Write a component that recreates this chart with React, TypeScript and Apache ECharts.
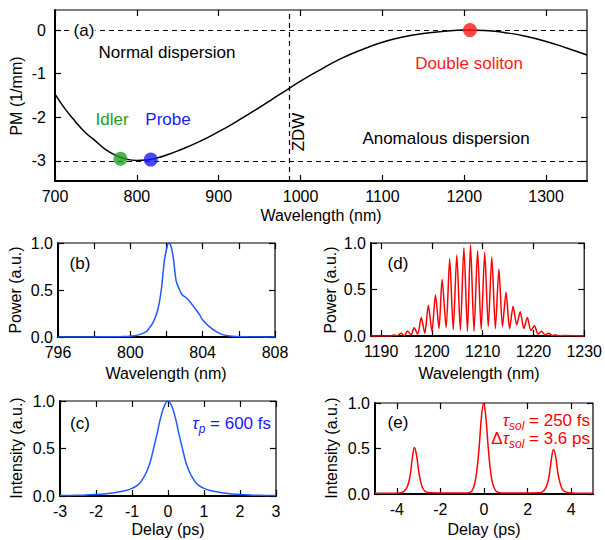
import React, { useEffect, useRef } from "react";
import * as echarts from "echarts";

// ---------- Panel (a): phase matching vs wavelength ----------
const pmWavelength = [700, 712, 725, 737, 750, 762, 775, 787, 800, 812, 825, 837, 850, 875, 900, 925, 950, 975, 1000, 1025, 1050, 1075, 1100, 1125, 1150, 1175, 1200, 1225, 1250, 1275, 1300, 1325, 1350];
const pmValues = [-1.47, -1.8, -2.1, -2.35, -2.55, -2.74, -2.88, -2.96, -2.99, -2.98, -2.93, -2.86, -2.77, -2.57, -2.33, -2.06, -1.77, -1.47, -1.17, -0.9, -0.65, -0.45, -0.28, -0.16, -0.08, -0.03, 0.0, -0.01, -0.06, -0.14, -0.26, -0.41, -0.57];
const markerNames = ["Idler", "Probe", "Double soliton"];
const markerWavelength = [780, 817, 1207];
const markerPM = [-2.95, -2.97, 0.0];
const markerColors = ["#22a022", "#1a1aff", "#ff1a1a"];
const zdwWavelength = 986.6;
const pmGuideLevels = [0, -3];
const aXTicks = [700, 800, 900, 1000, 1100, 1200, 1300];
const aYTicks = [-3, -2, -1, 0];

// ---------- Panel (b): probe spectrum ----------
const bWavelength = [796, 798, 799, 799.5, 800, 800.5, 800.9, 801.06, 801.25, 801.52, 801.71, 801.89, 802.07, 802.13, 802.26, 802.39, 802.53, 802.68, 802.86, 803.08, 803.36, 803.63, 803.82, 804.0, 804.37, 804.73, 805.1, 805.65, 806.5, 808];
const bPower = [0, 0.001, 0.002, 0.004, 0.007, 0.025, 0.06, 0.1, 0.15, 0.29, 0.5, 0.82, 0.99, 1.0, 0.96, 0.82, 0.6, 0.52, 0.45, 0.42, 0.36, 0.29, 0.24, 0.18, 0.11, 0.06, 0.025, 0.007, 0.002, 0];
const bXTicks = [796, 798, 800, 802, 804, 806, 808];
const bXLabels = [796, 800, 804, 808];

// ---------- Panel (c): probe autocorrelation ----------
const cDelay = [-3, -2.5, -2, -1.5, -1.2, -1, -0.9, -0.8, -0.7, -0.6, -0.5, -0.4, -0.3, -0.2, -0.1, 0, 0.1, 0.2, 0.3, 0.4, 0.5, 0.6, 0.7, 0.8, 0.9, 1, 1.2, 1.5, 2, 2.5, 3];
const cIntensity = [0.005, 0.008, 0.015, 0.035, 0.055, 0.08, 0.1, 0.13, 0.18, 0.25, 0.35, 0.5, 0.66, 0.83, 0.95, 1.0, 0.95, 0.83, 0.66, 0.5, 0.35, 0.25, 0.18, 0.13, 0.1, 0.08, 0.055, 0.035, 0.015, 0.008, 0.005];
const cXTicks = [-3, -2, -1, 0, 1, 2, 3];

// ---------- Panel (d): double soliton spectrum ----------
const dWavelength = [1188, 1191.8, 1192.5, 1193.2, 1193.9, 1194.6, 1195.2, 1195.9, 1196.5, 1197.2, 1197.9, 1198.6, 1199.3, 1200.0, 1200.7, 1201.4, 1202.0, 1202.8, 1203.5, 1204.2, 1204.9, 1205.6, 1206.3, 1207.0, 1207.6, 1208.3, 1209.0, 1209.7, 1210.4, 1211.1, 1211.8, 1212.5, 1213.2, 1213.9, 1214.6, 1215.3, 1216.0, 1216.7, 1217.4, 1218.1, 1218.8, 1219.5, 1220.2, 1220.9, 1221.6, 1222.3, 1223.0, 1223.7, 1224.4, 1225.1, 1226, 1230];
const dPower = [0.0, 0.0, 0.012, 0.002, 0.03, 0.005, 0.055, 0.01, 0.09, 0.02, 0.2, 0.03, 0.33, 0.05, 0.44, 0.08, 0.61, 0.09, 0.83, 0.07, 0.87, 0.06, 0.95, 0.05, 0.98, 0.05, 0.92, 0.07, 0.9, 0.1, 0.85, 0.08, 0.72, 0.1, 0.47, 0.08, 0.32, 0.12, 0.26, 0.08, 0.2, 0.06, 0.11, 0.02, 0.05, 0.01, 0.03, 0.005, 0.012, 0.002, 0.005, 0.0];
const dXTicks = [1190, 1200, 1210, 1220, 1230];

// ---------- Panel (e): double soliton autocorrelation ----------
const eDelay = [-5, -4.2, -3.79, -3.69, -3.59, -3.49, -3.39, -3.29, -3.19, -3.09, -2.99, -2.89, -2.79, -2.69, -2.5, -1.5, -0.8, -0.62, -0.52, -0.42, -0.32, -0.22, -0.12, -0.02, 0.08, 0.18, 0.28, 0.38, 0.48, 0.58, 0.8, 1.5, 2.59, 2.69, 2.79, 2.89, 2.99, 3.09, 3.19, 3.29, 3.39, 3.49, 3.59, 3.69, 3.9, 4.2, 5];
const eIntensity = [0.008, 0.008, 0.015, 0.025, 0.05, 0.1, 0.2, 0.39, 0.51, 0.42, 0.24, 0.12, 0.055, 0.028, 0.013, 0.01, 0.012, 0.02, 0.05, 0.12, 0.27, 0.52, 0.84, 1.0, 0.86, 0.55, 0.29, 0.13, 0.06, 0.025, 0.012, 0.01, 0.013, 0.025, 0.05, 0.1, 0.2, 0.38, 0.49, 0.41, 0.23, 0.12, 0.055, 0.028, 0.013, 0.008, 0.008];
const eXTicks = [-4, -2, 0, 2, 4];

const unitYTicks = [0, 0.5, 1];

const FONT = "'Liberation Sans', Arial, Helvetica, sans-serif";
const BLUE_LINE = "#1e5aff";
const RED = "#ff0000";

const zip = (xs: number[], ys: number[]) => xs.map((x, i) => [x, ys[i]]);

function axes(dim: "x" | "y", gridIndex: number, min: number, max: number, ticks: number[], labels: number[], fmt: (v: number) => string, margin: number) {
  const base = {
    type: "value",
    gridIndex,
    min,
    max,
    splitLine: { show: false },
    axisTick: { show: true, inside: true, length: 6, lineStyle: { color: "#000", width: 1.2 }, customValues: ticks },
  };
  const main = {
    ...base,
    position: dim === "x" ? "bottom" : "left",
    axisLine: { show: true, onZero: false, lineStyle: { color: "#000", width: 2 } },
    axisLabel: {
      show: true,
      customValues: labels,
      formatter: (v: number) => fmt(v),
      color: "#000",
      fontSize: 16,
      fontFamily: FONT,
      margin,
    },
  };
  const mirror = {
    ...base,
    position: dim === "x" ? "top" : "right",
    axisLine: { show: false, onZero: false },
    axisLabel: { show: false },
  };
  return [main, mirror];
}

const f0 = (v: number) => String(v);
const f1 = (v: number) => v.toFixed(1);

function text(x: number, y: number, t: string, extra: any = {}, rotation = 0) {
  return {
    type: "text",
    x,
    y,
    rotation,
    z: 100,
    style: {
      text: t,
      fill: "#000",
      fontSize: 16,
      fontFamily: FONT,
      align: "center",
      verticalAlign: "middle",
      ...extra,
    },
  };
}

export default function App() {
  const ref = useRef<HTMLDivElement>(null);
  useEffect(() => {
    if (!ref.current) return;
    const chart = echarts.init(ref.current, undefined, { renderer: "svg" });
    const grids = [
      { left: 55, top: 10, width: 532, height: 171 },
      { left: 58, top: 243, width: 217, height: 94 },
      { left: 371, top: 243, width: 216, height: 93 },
      { left: 60, top: 401, width: 216, height: 95 },
      { left: 375, top: 403, width: 218, height: 91 },
    ].map((g) => ({ ...g, show: true, borderColor: "#000", borderWidth: 1.2, backgroundColor: "transparent", containLabel: false }));

    const xAxis = [
      ...axes("x", 0, 700, 1350, aXTicks, aXTicks, f0, 7),
      ...axes("x", 1, 796, 808, bXTicks, bXLabels, f0, 7),
      ...axes("x", 2, 1188, 1230, dXTicks, dXTicks, f0, 7),
      ...axes("x", 3, -3, 3, cXTicks, cXTicks, f0, 7),
      ...axes("x", 4, -5, 5, eXTicks, eXTicks, f0, 7),
    ];
    const yAxis = [
      ...axes("y", 0, -3.46, 0.46, aYTicks, aYTicks, f0, 9),
      ...axes("y", 1, 0, 1, unitYTicks, unitYTicks, f1, 5),
      ...axes("y", 2, 0, 1, unitYTicks, unitYTicks, f1, 5),
      ...axes("y", 3, 0, 1, unitYTicks, unitYTicks, f1, 5),
      ...axes("y", 4, 0, 1, unitYTicks, unitYTicks, f1, 5),
    ];

    const lineSeries = (i: number, data: number[][], color: string, smooth: number | boolean = 0.3) => ({
      type: "line",
      xAxisIndex: 2 * i,
      yAxisIndex: 2 * i,
      data,
      showSymbol: false,
      symbol: "none",
      smooth,
      lineStyle: { color, width: 1.5 },
      silent: true,
    });

    const pmSeries: any = lineSeries(0, zip(pmWavelength, pmValues), "#000", 0.5);
    pmSeries.markLine = {
      silent: true,
      symbol: ["none", "none"],
      label: { show: false },
      lineStyle: { type: [5, 4], color: "#000", width: 1.2 },
      data: [...pmGuideLevels.map((v) => ({ yAxis: v })), { xAxis: zdwWavelength }],
    };

    const richStyles = (color: string) => ({
      t: { fontSize: 17, fontStyle: "italic", fontFamily: FONT, fill: color, lineHeight: 24 },
      s: { fontSize: 12, fontStyle: "italic", fontFamily: FONT, fill: color, lineHeight: 12, verticalAlign: "bottom" },
      n: { fontSize: 17, fontFamily: FONT, fill: color, lineHeight: 24 },
    });

    const option: any = {
      animation: false,
      grid: grids,
      xAxis,
      yAxis,
      series: [
        pmSeries,
        {
          type: "scatter",
          xAxisIndex: 0,
          yAxisIndex: 0,
          symbolSize: 14,
          z: 5,
          data: markerWavelength.map((w, i) => ({ name: markerNames[i], value: [w, markerPM[i]], itemStyle: { color: markerColors[i] } })),
        },
        lineSeries(1, zip(bWavelength, bPower), BLUE_LINE, 0.3),
        lineSeries(2, zip(dWavelength, dPower), RED, 0.25),
        lineSeries(3, zip(cDelay, cIntensity), BLUE_LINE, 0.4),
        lineSeries(4, zip(eDelay, eIntensity), RED, 0.4),
      ],
      graphic: [
        // panel (a)
        text(84, 30, "(a)", { backgroundColor: "#fff", padding: [0, 1], fontSize: 17 }),
        text(167, 52, "Normal dispersion", { fontSize: 17 }),
        text(469, 63, "Double soliton", { fill: "#ff1a1a", fontSize: 17 }),
        text(112, 119, "Idler", { fill: "#22a022", fontSize: 17 }),
        text(168, 119, "Probe", { fill: "#1a1aff", fontSize: 17 }),
        text(446, 138, "Anomalous dispersion", { fontSize: 17 }),
        text(298, 132, "ZDW", { fontSize: 17 }, Math.PI / 2),
        text(16, 96, "PM (1/mm)", {}, Math.PI / 2),
        text(321, 215, "Wavelength (nm)"),
        // panel (b)
        text(80, 263, "(b)", { fontSize: 17 }),
        text(15, 290, "Power (a.u.)", {}, Math.PI / 2),
        text(166, 373, "Wavelength (nm)"),
        // panel (d)
        text(398, 263, "(d)", { fontSize: 17 }),
        text(330, 290, "Power (a.u.)", {}, Math.PI / 2),
        text(479, 373, "Wavelength (nm)"),
        // panel (c)
        text(80, 423, "(c)", { fontSize: 17 }),
        text(16, 448, "Intensity (a.u.)", {}, Math.PI / 2),
        text(168, 529, "Delay (ps)"),
        text(271, 423, "{t|τ}{s|p}{n| = 600 fs}", { align: "right", fill: "#1a1aff", rich: richStyles("#1a1aff") }),
        // panel (e)
        text(398, 422, "(e)", { fontSize: 17 }),
        text(331, 448, "Intensity (a.u.)", {}, Math.PI / 2),
        text(484, 529, "Delay (ps)"),
        text(590, 420, "{t|τ}{s|sol}{n| = 250 fs}", { align: "right", fill: RED, rich: richStyles(RED) }),
        text(590, 438, "{n|Δ}{t|τ}{s|sol}{n| = 3.6 ps}", { align: "right", fill: RED, rich: richStyles(RED) }),
      ],
    };
    chart.setOption(option);
    return () => chart.dispose();
  }, []);
  return <div ref={ref} style={{ position: "fixed", left: 0, top: 0, width: 605, height: 540, background: "#fff" }} />;
}
